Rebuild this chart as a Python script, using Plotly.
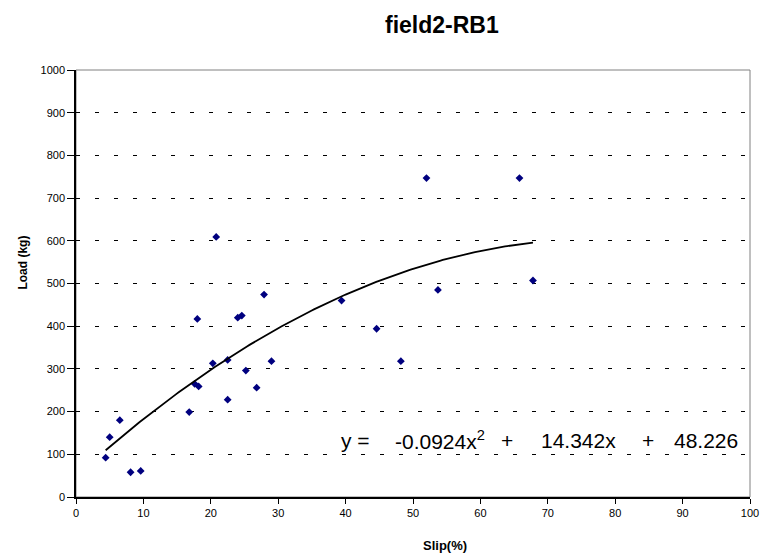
import numpy as np
import plotly.graph_objects as go

# data
slip = [4.4, 5.0, 6.5, 8.1, 9.6, 16.8, 17.6, 18.2, 18.0, 20.3, 20.8, 22.5, 22.5,
        24.0, 24.6, 25.2, 26.8, 27.9, 29.0, 39.4, 44.6, 48.2, 52.0, 53.7, 65.8, 67.8]
load = [92, 140, 180, 58, 61, 199, 265, 259, 417, 313, 609, 321, 228,
        420, 425, 296, 256, 474, 318, 460, 394, 318, 747, 485, 747, 507]

# trendline coefficients (from the equation in the chart)
a2, a1, a0 = -0.0924, 14.342, 48.226

x_ticks = list(range(0, 101, 10))
y_ticks = list(range(0, 1001, 100))

# equation pieces and their horizontal centres (in slip units)
eq_parts = ["y =", "-0.0924x<sup>2</sup>", "+", "14.342x", "+", "48.226"]
eq_centres = [41.5, 54.0, 64.0, 74.5, 84.8, 93.4]

xf = np.linspace(min(slip), max(slip), 200)
yf = a2 * xf**2 + a1 * xf + a0

font = "Liberation Sans, Arial, sans-serif"

fig = go.Figure()
fig.add_trace(go.Scatter(
    x=slip, y=load, mode="markers",
    marker=dict(symbol="diamond", size=6, color="#00007f"),
    showlegend=False, hoverinfo="skip"))
fig.add_trace(go.Scatter(
    x=xf, y=yf, mode="lines",
    line=dict(color="black", width=1.8),
    showlegend=False, hoverinfo="skip"))

annotations = [
    dict(text="<b>field2-RB1</b>", xref="paper", yref="paper",
         x=(446 - 76) / 681, y=(558 - 61 - 25) / 427,
         xanchor="center", yanchor="middle", showarrow=False,
         font=dict(size=23, family=font)),
    dict(text="<b>Slip(%)</b>", xref="paper", yref="paper",
         x=(449 - 76) / 681, y=-(545 - 497) / 427,
         xanchor="center", yanchor="middle", showarrow=False,
         font=dict(size=13, family=font)),
    dict(text="<b>Load (kg)</b>", xref="paper", yref="paper",
         x=-(76 - 22) / 681, y=(497 - 263) / 427, textangle=-90,
         xanchor="center", yanchor="middle", showarrow=False,
         font=dict(size=12, family=font)),
]
for t, cx in zip(eq_parts, eq_centres):
    annotations.append(dict(text=t, xref="x", yref="y", x=cx, y=133,
                            xanchor="center", yanchor="middle", showarrow=False,
                            font=dict(size=21, family=font)))

fig.update_layout(
    width=771, height=558,
    margin=dict(l=76, r=14, t=70, b=61),
    paper_bgcolor="white", plot_bgcolor="white",
    font=dict(family=font, color="black"),
    shapes=[dict(type="rect", xref="paper", yref="paper", x0=0, x1=1, y0=0, y1=1,
                 line=dict(color="#808080", width=1), layer="below")],
    annotations=annotations,
)

fig.update_xaxes(
    range=[0, 100], tickvals=x_ticks, ticktext=[str(v) for v in x_ticks],
    showgrid=False, zeroline=False,
    showline=True, linecolor="black", linewidth=1.5,
    ticks="outside", ticklen=5, tickcolor="black", tickwidth=1,
    tickfont=dict(size=11, family=font, color="black"))
fig.update_yaxes(
    range=[0, 1000], tickvals=y_ticks, ticktext=[str(v) for v in y_ticks],
    showgrid=True, gridcolor="black", gridwidth=1, griddash="4px,15px",
    zeroline=False,
    showline=True, linecolor="black", linewidth=1.5,
    ticks="outside", ticklen=7, tickcolor="black", tickwidth=1,
    tickfont=dict(size=11, family=font, color="black"))

fig.write_html("out.html")
